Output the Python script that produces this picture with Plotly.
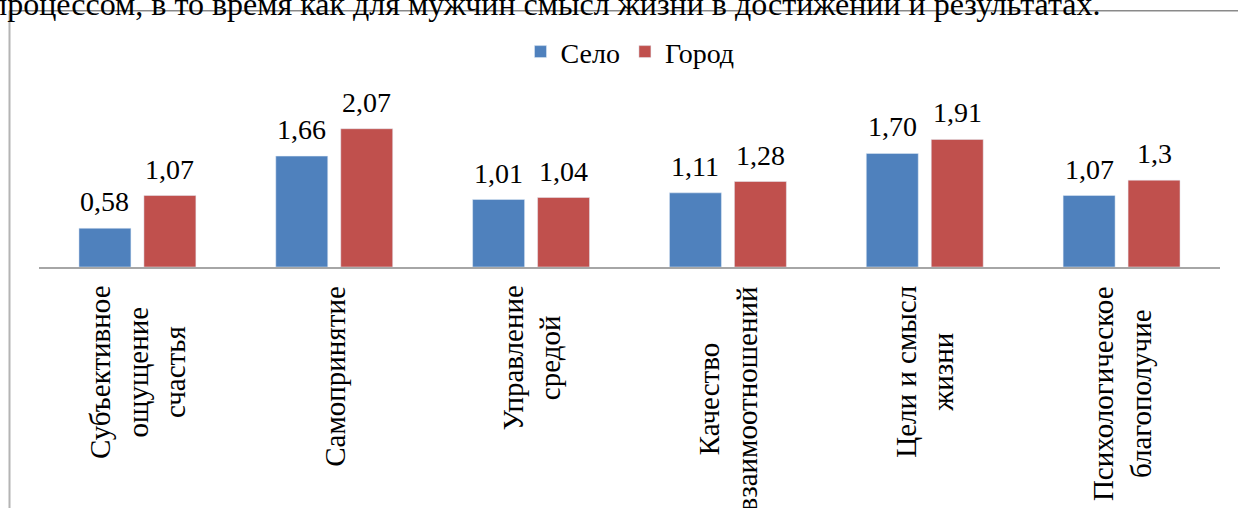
import plotly.graph_objects as go

categories = ["Субъективное ощущение счастья", "Самопринятие", "Управление средой",
              "Качество взаимоотношений", "Цели и смысл жизни", "Психологическое благополучие"]
tick_labels = ["Субъективное<br>ощущение<br>счастья", "Самопринятие", "Управление<br>средой",
               "Качество<br>взаимоотношений", "Цели и смысл<br>жизни", "Психологическое<br>благополучие"]
selo = [0.58, 1.66, 1.01, 1.11, 1.70, 1.07]
selo_labels = ["0,58", "1,66", "1,01", "1,11", "1,70", "1,07"]
gorod = [1.07, 2.07, 1.04, 1.28, 1.91, 1.3]
gorod_labels = ["1,07", "2,07", "1,04", "1,28", "1,91", "1,3"]

W, H = 1238, 508
L, R, T, B = 39, 18, 100, 241.3
pw, ph = W - L - R, H - T - B
BARGAP, BARGROUPGAP = 0.34, 0.2

def px(x):
    return (x - L) / pw

def py(y):
    return (H - B - y) / ph

def txt(size=28):
    return dict(family="Liberation Serif", size=size, color="black")

fig = go.Figure()
fig.add_trace(go.Bar(name="Село", x=categories, y=selo, marker_color="#4F81BD"))
fig.add_trace(go.Bar(name="Город", x=categories, y=gorod, marker_color="#C0504D"))

annotations = []
# value labels placed over the centre of each bar of the group
slot = (1 - BARGAP) / 2
for k, (vals, labs) in enumerate([(selo, selo_labels), (gorod, gorod_labels)]):
    off = (k - 0.5) * slot
    for i, (v, t) in enumerate(zip(vals, labs)):
        annotations.append(dict(x=i + off, xref="x", y=v, yref="y", yanchor="bottom",
                                xanchor="center", yshift=9, text=t, showarrow=False, font=txt(28)))

for c, t in zip(categories, tick_labels):
    annotations.append(dict(x=c, xref="x", y=0, yref="paper", yanchor="top", xanchor="center",
                            yshift=-17, text=t, textangle=-90, align="center", showarrow=False,
                            font=txt(29)))
annotations.append(dict(x=px(-12), xref="paper", y=py(24), yref="paper", xanchor="left",
                        yanchor="bottom", showarrow=False, align="left",
                        text="процессом, в то время как для мужчин смысл жизни в достижении и результатах.",
                        font=txt(32)))

shapes = [
    dict(type="line", xref="paper", yref="paper", x0=px(9.5), x1=px(W + 5), y0=py(11), y1=py(11),
         line=dict(color="#8a8a8a", width=1.5)),
    dict(type="line", xref="paper", yref="paper", x0=px(9.5), x1=px(9.5), y0=py(11), y1=py(H + 5),
         line=dict(color="#b4b4b4", width=2)),
]

fig.update_layout(
    width=W, height=H,
    margin=dict(l=L, r=R, t=T, b=B, pad=0),
    paper_bgcolor="white", plot_bgcolor="white",
    barmode="group", bargap=BARGAP, bargroupgap=BARGROUPGAP,
    showlegend=True,
    legend=dict(orientation="h", x=px(630), xanchor="center", y=py(52), yanchor="middle",
                font=txt(28), bgcolor="rgba(0,0,0,0)", itemwidth=30, tracegroupgap=0),
    xaxis=dict(showticklabels=False, ticks="", showline=True, linecolor="#a6a6a6", linewidth=2,
               showgrid=False, zeroline=False),
    yaxis=dict(visible=False, range=[0, 2.5], showgrid=False, zeroline=False),
    annotations=annotations, shapes=shapes,
)

fig.write_html("out.html", config={"displayModeBar": False},
               post_script="document.body.style.margin='0';")
